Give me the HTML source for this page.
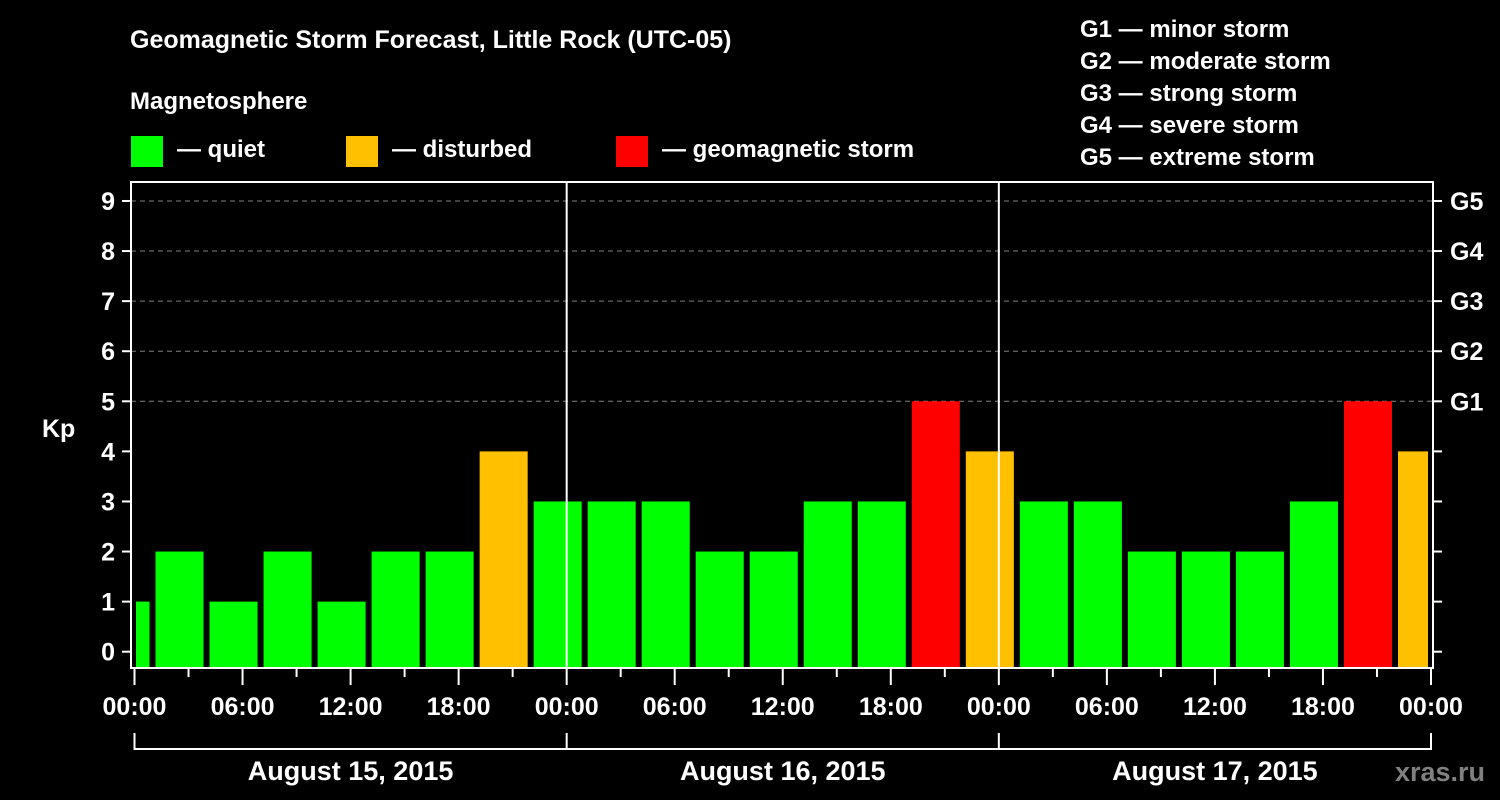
<!DOCTYPE html>
<html><head><meta charset="utf-8"><style>
html,body{margin:0;padding:0;background:#000;}
svg{display:block;font-family:"Liberation Sans",Arial,sans-serif;font-weight:bold;}
</style></head><body>
<svg id="chart" width="1500" height="800" viewBox="0 0 1500 800">
<rect x="0" y="0" width="1500" height="800" fill="#000"/>
<text x="130" y="48" fill="#fff" font-size="25">Geomagnetic Storm Forecast, Little Rock (UTC-05)</text>
<text x="130" y="109" fill="#fff" font-size="24">Magnetosphere</text>
<g><rect x="131" y="136" width="32" height="31" fill="#00ff00"/><text x="177" y="157" fill="#fff" font-size="24">— quiet</text></g>
<g><rect x="346" y="136" width="32" height="31" fill="#ffc000"/><text x="392" y="157" fill="#fff" font-size="24">— disturbed</text></g>
<g><rect x="616" y="136" width="32" height="31" fill="#ff0000"/><text x="662" y="157" fill="#fff" font-size="24">— geomagnetic storm</text></g>
<g fill="#fff" font-size="24">
<text x="1080" y="37">G1 — minor storm</text>
<text x="1080" y="69">G2 — moderate storm</text>
<text x="1080" y="101">G3 — strong storm</text>
<text x="1080" y="133">G4 — severe storm</text>
<text x="1080" y="165">G5 — extreme storm</text>
</g>
<text x="42" y="437" fill="#fff" font-size="25">Kp</text>
<g id="grid"></g><g id="bars"></g><g id="axes"></g>
<text x="1485" y="781" fill="#808080" font-size="27" text-anchor="end">xras.ru</text>
</svg>
<script>
const kpValues=[1,2,1,2,1,2,2,4,3,3,3,2,2,3,3,5,4,3,3,2,2,2,3,5,4];
const binStartHours=[-2,1,4,7,10,13,16,19,22,25,28,31,34,37,40,43,46,49,52,55,58,61,64,67,70];
const yTicks=[0,1,2,3,4,5,6,7,8,9];
const gLabels=["G1","G2","G3","G4","G5"];
const gLevels=[5,6,7,8,9];
const xTickLabels=["00:00","06:00","12:00","18:00","00:00","06:00","12:00","18:00","00:00","06:00","12:00","18:00","00:00"];
const dayLabels=["August 15, 2015","August 16, 2015","August 17, 2015"];
const NS="http://www.w3.org/2000/svg";
const X0=134.5,X1=1431,H=72,PL=131,PR=1433,PT=182,PB=668;
const x=h=>X0+(X1-X0)*h/H;
const y=v=>651.7-v*50.08;
function mk(tag,attrs,parent,text){const e=document.createElementNS(NS,tag);for(const k in attrs)e.setAttribute(k,attrs[k]);if(text!==undefined)e.textContent=text;parent.appendChild(e);return e;}
const grid=document.getElementById('grid'),bars=document.getElementById('bars'),axes=document.getElementById('axes');
gLevels.forEach(v=>{const l=mk('line',{x1:PL,x2:PR,y1:y(v),y2:y(v),stroke:'#808080','stroke-width':1,'stroke-dasharray':'5,4'},grid);

});
kpValues.forEach((v,i)=>{const s=Math.max(0,binStartHours[i]),e=Math.min(H,binStartHours[i]+3);
const x1=x(s)+(s===binStartHours[i]?3:1.5),x2=x(e)-(e===binStartHours[i]+3?3:3);
const c=v>=5?'#ff0000':(v>=4?'#ffc000':'#00ff00');
const r=mk('rect',{x:x1,y:y(v),width:x2-x1,height:PB-y(v),fill:c},bars);

});
mk('rect',{x:PL,y:PT,width:PR-PL,height:PB-PT,fill:'none',stroke:'#fff','stroke-width':2},axes);
[24,48].forEach(h=>{const l=mk('line',{x1:x(h),x2:x(h),y1:PT,y2:PB,stroke:'#fff','stroke-width':2},axes);

});
yTicks.forEach(v=>{mk('line',{x1:122,x2:PL,y1:y(v),y2:y(v),stroke:'#fff','stroke-width':2},axes);
mk('line',{x1:PR,x2:1442,y1:y(v),y2:y(v),stroke:'#fff','stroke-width':2},axes);
const t=mk('text',{x:115,y:y(v)+9,fill:'#fff','font-size':25,'text-anchor':'end'},axes,String(v));

});
gLabels.forEach((g,i)=>{const t=mk('text',{x:1450,y:y(gLevels[i])+9,fill:'#fff','font-size':25},axes,g);

});
for(let h=0;h<=H;h+=3){const major=h%6===0;mk('line',{x1:x(h),x2:x(h),y1:PB,y2:major?685:677,stroke:'#fff','stroke-width':2},axes);}
xTickLabels.forEach((s,i)=>{const t=mk('text',{x:x(i*6),y:715,fill:'#fff','font-size':25,'text-anchor':'middle'},axes,s);

});
mk('path',{d:`M${x(0)},733V749H${x(72)}V733M${x(24)},733V749M${x(48)},733V749`,stroke:'#fff','stroke-width':2,fill:'none'},axes);
dayLabels.forEach((s,i)=>{const t=mk('text',{x:x(i*24+12),y:780,fill:'#fff','font-size':27,'text-anchor':'middle'},axes,s);

});
</script>
</body></html>
